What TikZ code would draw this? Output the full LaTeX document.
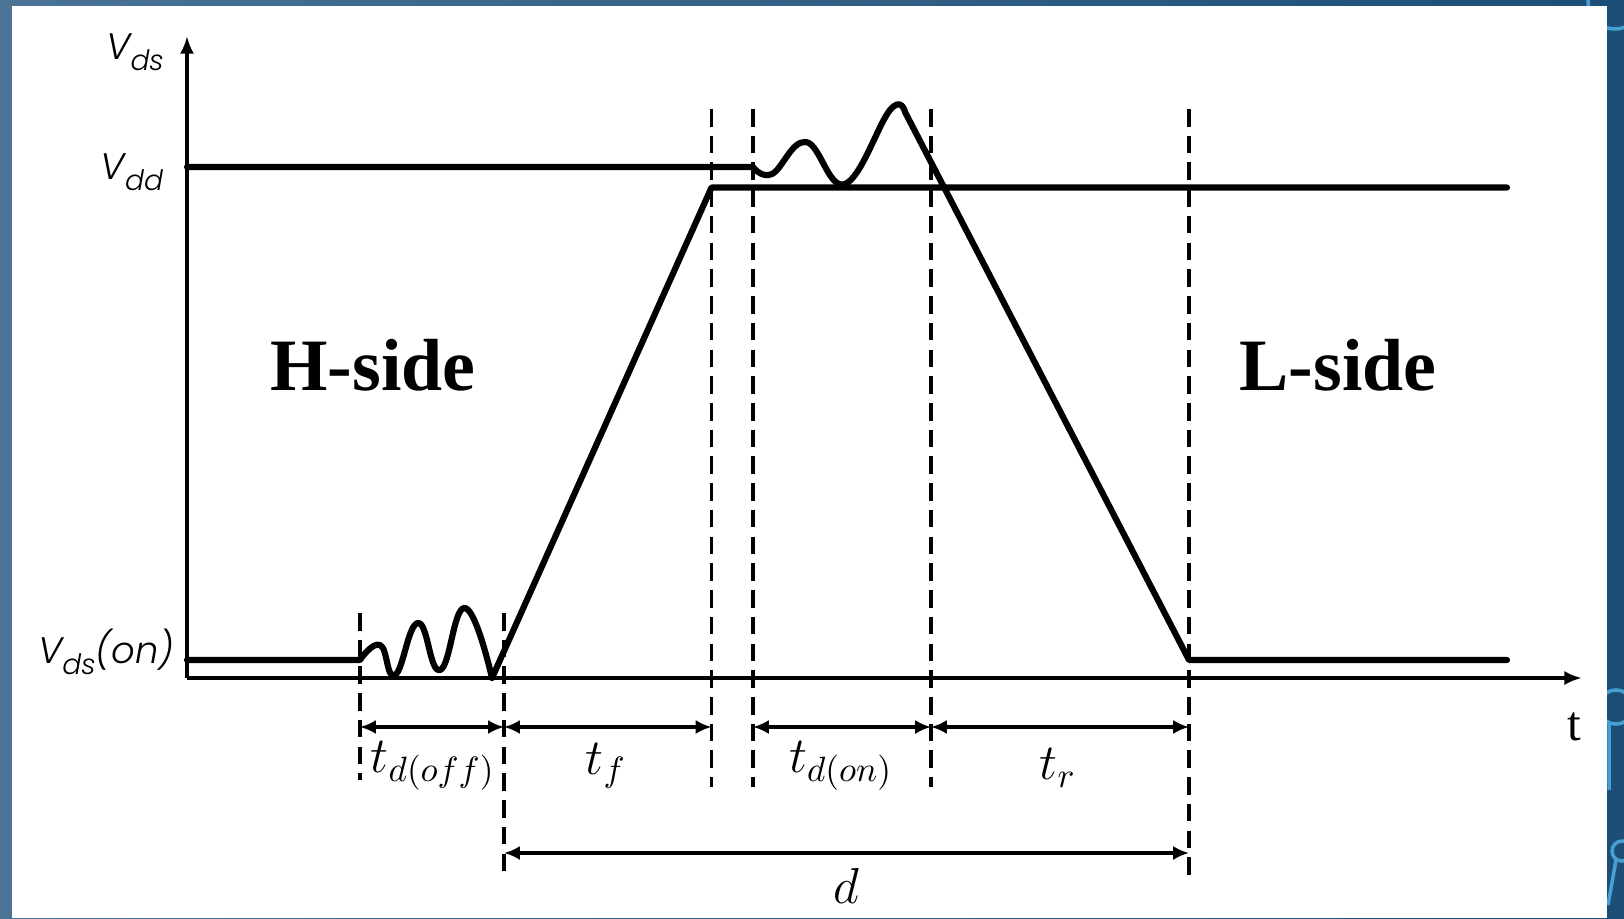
\documentclass[tikz,border=0pt]{standalone}
\usepackage{fontspec}
\setmainfont{Liberation Serif}
\newfontfamily\gothfont{Poppins}[UprightFont=* Light, ItalicFont=* Light Italic]
\usetikzlibrary{arrows.meta,positioning}
\definecolor{slidelight}{RGB}{74,115,150}
\definecolor{slidedark}{RGB}{28,78,118}
\definecolor{ringblue}{RGB}{70,160,210}
\newcommand{\lbl}[1]{{\gothfont\itshape #1}}
\newcommand{\sbs}[1]{\raisebox{-0.55ex}{\fontsize{8}{8}\selectfont #1}}

\begin{document}
\begin{tikzpicture}[x=0.01cm, y=-0.01cm,
  wave/.style={line width=1.75pt, line join=round, line cap=round},
  axis/.style={line width=1.1pt, -{Latex[length=5pt,width=4pt]}},
  guide/.style={line width=1pt, dash pattern=on 5pt off 2.6pt},
  dim/.style={line width=1pt, {Latex[length=4.5pt,width=4pt]}-{Latex[length=4.5pt,width=4pt]}},
  tlabel/.style={font=\fontsize{14.5}{17}\selectfont},
  side/.style={font=\fontsize{21}{24}\selectfont\bfseries}]
\useasboundingbox (0,0) rectangle (1624,918);
% slide background and its rings
\shade[left color=slidelight, right color=slidedark] (0,0) rectangle (1624,918);
\draw[ringblue, line width=1pt] (1615,2) circle (27);
\draw[ringblue, line width=1pt] (1616,707) circle (17) (1609,722) -- (1609,790);
\draw[ringblue, line width=1pt] (1622,851) circle (10) (1616,860) -- (1608,905);
\fill[white] (12,6) rectangle (1607,918);

% axes
\coordinate (o) at (187,678);
\draw[axis] (o) -- (187,36);
\draw[axis] (o) -- (1582,678);
\node (vds) at (135,52) {\lbl{\fontsize{10.5}{12}\selectfont V\sbs{ds}}};
\node (vdd) at (132,172) {\lbl{\fontsize{10.5}{12}\selectfont V\sbs{dd}}};
\node (vdson) at (106,652) {\lbl{\fontsize{10.5}{12}\selectfont V\sbs{ds}(on)}};
\node[font=\fontsize{14}{16}\selectfont] (t) at (1574,727) {t};

% dashed time markers
\foreach \x/\ya/\yb in {360/613/780, 504/613/878, 711.5/109/787, 753/109/787, 931/109/787, 1189/109/878}{
  \draw[guide] (\x,\ya) -- (\x,\yb);
}

% H-side waveform: Vds(on), ringing, rise to Vdd
\draw[wave] (187,660) -- (360,660)
  -- plot[smooth, tension=0.8] coordinates {(360,660) (380,645) (395,675) (418,623) (440,670) (465,608) (492,678)}
  -- (711.5,187.5) -- (1507,187.5);
% L-side waveform: Vdd, ringing, fall to Vds(on)
\draw[wave] (187,167) -- (753,167)
  -- plot[smooth, tension=0.7] coordinates {(753,167) (772,174) (806,142) (845,184) (890,110) (905,112)}
  -- (1189,660) -- (1507,660);

\node[side] (hside) at (373,365) {H-side};
\node[side] (lside) at (1338,365) {L-side};

% time intervals
\coordinate (a) at (360,727);
\coordinate (b) at (504,727);
\coordinate (c) at (711.5,727);
\coordinate (e) at (753,727);
\coordinate (f) at (931,727);
\coordinate (g) at (1189,727);
\draw[dim] (a) -- (b);
\draw[dim] (b) -- (c);
\draw[dim] (e) -- (f);
\draw[dim] (f) -- (g);
\coordinate (d1) at (504,853);
\coordinate (d2) at (1189,853);
\draw[dim] (d1) -- (d2);
\node[tlabel] (toff) at (433,766) {$t_{d(off)}$};
\node[tlabel] (tf) at (606,766) {$t_f$};
\node[tlabel] (ton) at (841,766) {$t_{d(on)}$};
\node[tlabel] (tr) at (1058,768) {$t_r$};
\node[tlabel] (dd) at (846,886) {$d$};
\end{tikzpicture}
\end{document}
